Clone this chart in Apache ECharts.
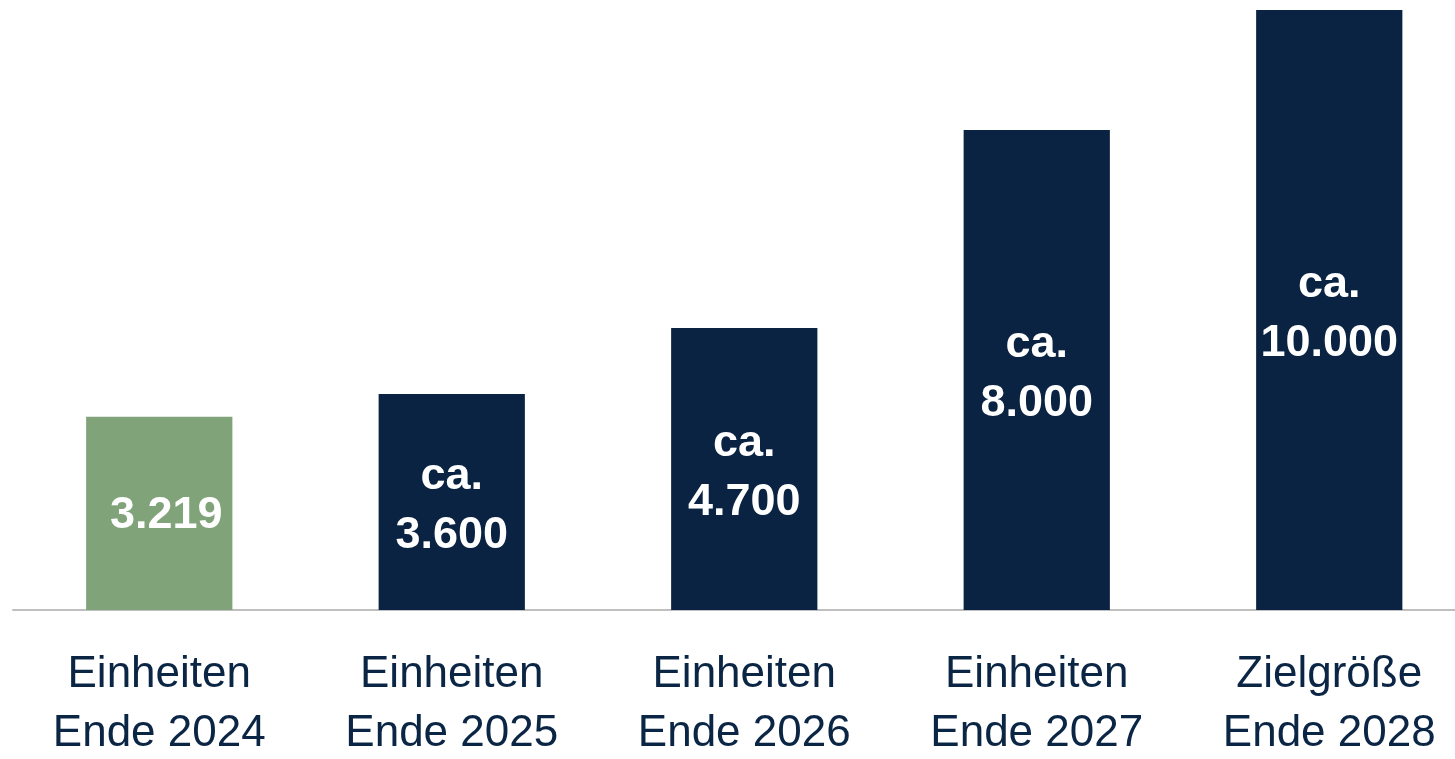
<!DOCTYPE html>
<html>
<head>
<meta charset="utf-8">
<script src="https://cdn.jsdelivr.net/npm/echarts@6/dist/echarts.min.js"></script>
<style>
  html, body { margin: 0; padding: 0; background: #ffffff; }
  #chart { width: 1455px; height: 759px; }
</style>
</head>
<body>
<div id="chart"></div>
<script>
const categories = [
  'Einheiten\nEnde 2024',
  'Einheiten\nEnde 2025',
  'Einheiten\nEnde 2026',
  'Einheiten\nEnde 2027',
  'Zielgröße\nEnde 2028'
]
const values = [3219, 3600, 4700, 8000, 10000]
const valueLabels = ['3.219', 'ca.\n3.600', 'ca.\n4.700', 'ca.\n8.000', 'ca.\n10.000']
const barColors = ['#80a37a', '#0a2342', '#0a2342', '#0a2342', '#0a2342']

const font = '"Liberation Sans", Arial, sans-serif'

const chart = echarts.init(document.getElementById('chart'))

chart.setOption({
  backgroundColor: '#ffffff',
  animation: false,
  grid: { left: 13, top: 10, width: 1462.5, bottom: 149, outerBoundsMode: 'none', containLabel: false },
  xAxis: {
    type: 'category',
    data: categories,
    axisLine: { lineStyle: { color: '#bfbfbf', width: 2 } },
    axisTick: { show: false },
    axisLabel: {
      color: '#0b2545',
      fontFamily: font,
      fontSize: 44,
      lineHeight: 59,
      margin: 35,
      interval: 0
    }
  },
  yAxis: {
    type: 'value',
    min: 0,
    max: 10000,
    show: false,
    splitLine: { show: false }
  },
  series: [{
    type: 'bar',
    barWidth: '50%',
    data: values.map((v, i) => ({
      value: v,
      itemStyle: { color: barColors[i] },
      label: {
        formatter: valueLabels[i],
        offset: i === 0 ? [7, 2] : [0, 4]
      }
    })),
    label: {
      show: true,
      position: 'inside',
      color: '#ffffff',
      fontFamily: font,
      fontWeight: 'bold',
      fontSize: 45,
      lineHeight: 59
    }
  }]
})
</script>
</body>
</html>
